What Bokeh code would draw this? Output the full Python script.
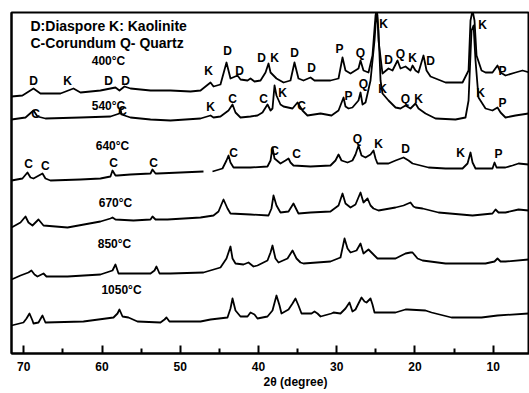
import numpy as np
from bokeh.plotting import figure
from bokeh.models import Range1d, FixedTicker, ColumnDataSource
from bokeh.core.properties import value
from bokeh.embed import file_html
from bokeh.resources import INLINE

# ---------------- data (2theta in degrees, stacked intensity in arbitrary units) ----------------
x_ticks = [70, 60, 50, 40, 30, 20, 10]
x_minor = [65, 55, 45, 35, 25, 15]
x_title = "2θ (degree)"

tt_400 = [71.57, 70.17, 68.76, 67.87, 65.31, 63.65, 62.75, 60.20, 58.28, 57.77, 57.13, 56.36, 53.80, 51.25,
          48.69, 47.41, 46.13, 45.75, 44.86, 44.09, 43.58, 42.68, 42.30, 41.40, 41.02, 40.51, 39.74, 39.10,
          38.72, 38.46, 37.70, 36.80, 35.91, 35.40, 34.89, 34.25, 33.35, 32.84, 30.80, 29.77, 29.26, 28.88,
          28.24, 27.22, 26.96, 26.58, 25.94, 25.43, 25.04, 24.91, 24.79, 24.66, 24.15, 23.38, 22.87, 22.23,
          21.85, 21.21, 20.57, 20.31, 19.93, 19.55, 18.91, 18.52, 18.01, 17.37, 16.09, 13.92, 13.15, 12.90,
          12.64, 12.39, 12.13, 11.49, 10.98, 10.09, 9.45, 9.06, 8.43, 7.15, 6.25, 5.36]
int_400 = [257, 258, 265, 260, 260, 265, 261, 263, 266, 263, 267, 265, 263, 263,
           262, 263, 271, 267, 269, 291, 275, 278, 274, 273, 275, 272, 273, 281,
           290, 281, 275, 271, 273, 291, 275, 273, 276, 273, 273, 275, 296, 283,
           280, 285, 293, 283, 281, 298, 338, 343, 338, 313, 280, 285, 283, 293,
           285, 287, 283, 288, 283, 281, 298, 283, 277, 275, 271, 271, 283, 333,
           343, 333, 298, 283, 281, 281, 288, 281, 278, 281, 283, 281]

tt_540 = [71.57, 69.78, 68.76, 68.25, 67.23, 62.75, 58.92, 57.77, 57.64, 57.51, 56.36, 53.80, 51.25, 47.41,
          46.13, 45.75, 44.86, 43.83, 43.32, 42.94, 42.30, 41.02, 40.13, 39.49, 38.85, 38.46, 38.21, 37.95,
          37.70, 37.19, 36.80, 35.65, 35.01, 34.38, 33.74, 32.07, 30.67, 29.77, 29.13, 28.88, 28.49, 27.99,
          27.22, 26.96, 26.70, 26.32, 25.68, 25.17, 24.91, 24.66, 24.40, 24.15, 23.38, 22.48, 21.85, 21.21,
          20.57, 19.93, 19.55, 18.65, 17.37, 14.82, 13.54, 13.15, 12.77, 12.51, 12.26, 11.88, 10.98, 10.09,
          9.45, 9.06, 8.43, 7.15, 5.49]
int_540 = [234, 236, 243, 237, 235, 236, 237, 240, 245, 239, 236, 234, 233, 235,
           238, 236, 237, 243, 249, 241, 236, 237, 238, 241, 249, 243, 245, 268,
           258, 249, 247, 245, 251, 243, 238, 240, 238, 243, 256, 247, 245, 246,
           253, 261, 249, 251, 273, 313, 343, 323, 273, 260, 253, 246, 245, 248,
           245, 250, 245, 240, 235, 234, 236, 253, 323, 328, 293, 256, 245, 243,
           246, 241, 236, 238, 240]

tt_640 = [71.57, 70.17, 69.53, 69.14, 68.76, 67.61, 67.23, 66.59, 62.75, 60.20, 58.92, 58.66, 58.28, 58.02,
          56.36, 53.80, 53.55, 53.16, 52.91, 49.97, 47.03, np.nan, 45.88, 44.60, 44.09, 43.83, 43.58, 43.19,
          41.02, 38.85, 38.46, 38.21, 37.95, 37.19, 36.55, 36.16, 35.91, 35.53, 33.35, 30.80, 30.16, 29.77,
          29.39, 28.62, 27.99, 27.60, 27.22, 26.83, 26.32, 25.68, 25.30, 25.04, 24.79, 23.38, 22.48, 21.46,
          20.82, 20.31, 18.27, 16.09, 13.92, 13.28, 12.90, 12.64, 12.26, 10.09, 9.83, 9.57, 8.43, 7.53,
          6.76, 5.49]
int_640 = [173, 175, 181, 176, 175, 180, 175, 173, 174, 175, 177, 183, 178, 178,
           179, 180, 184, 180, 180, 181, 182, np.nan, 182, 185, 193, 198, 191, 186,
           186, 187, 193, 206, 195, 190, 193, 195, 191, 188, 187, 188, 193, 199,
           193, 191, 193, 199, 208, 198, 196, 199, 203, 195, 190, 190, 193, 196,
           193, 190, 186, 185, 185, 190, 201, 191, 185, 185, 191, 186, 186, 188,
           190, 189]

tt_670 = [71.57, 70.42, 69.78, 69.40, 68.89, 68.12, 67.48, 64.41, 60.20, 58.92, 58.66, 58.28, 55.98, 53.80,
          53.55, 53.16, 51.63, 47.41, 45.75, 45.11, 44.47, 43.96, 43.58, 41.02, 38.72, 38.34, 38.08, 37.70,
          37.19, 36.16, 35.53, 34.89, 33.35, 30.80, 29.77, 29.26, 28.88, 28.24, 27.60, 26.96, 26.58, 26.06,
          25.68, 25.30, 24.66, 22.48, 21.46, 20.57, 20.19, 19.93, 19.03, 16.99, 12.64, 10.09, 9.70, 9.32,
          8.43, 6.76, 5.49]
int_670 = [126, 131, 137, 131, 128, 134, 128, 126, 132, 135, 136, 134, 133, 134,
           137, 134, 134, 136, 138, 142, 154, 145, 140, 139, 138, 145, 158, 148,
           141, 142, 150, 140, 141, 142, 148, 160, 150, 146, 149, 161, 151, 155,
           148, 145, 143, 146, 148, 151, 147, 146, 145, 141, 138, 140, 144, 141,
           141, 144, 143]

tt_850 = [71.57, 70.42, 69.40, 69.02, 68.63, 68.25, 67.48, 67.10, 66.59, 64.41, 60.20, 58.66, 58.28, 57.89,
          53.80, 53.29, 53.04, 52.65, 51.25, 47.03, 44.86, 44.09, 43.58, 43.32, 42.94, 41.92, 41.28, 40.64,
          40.13, 38.85, 38.46, 38.21, 37.83, 37.44, 36.29, 35.65, 35.14, 34.63, 34.25, 30.80, 29.52, 29.00,
          28.62, 28.24, 27.47, 26.96, 26.58, 25.94, 25.43, 24.79, 22.48, 21.21, 20.57, 20.31, 19.67, 19.03,
          16.09, 10.98, 9.83, 9.45, 9.06, 8.43, 5.49]
int_850 = [74, 78, 81, 83, 79, 77, 80, 77, 77, 77, 79, 83, 89, 80,
           80, 83, 87, 80, 80, 81, 86, 95, 107, 95, 90, 89, 91, 87,
           88, 93, 101, 108, 95, 91, 95, 103, 95, 91, 90, 92, 96, 115,
           105, 101, 103, 110, 100, 104, 100, 95, 95, 100, 101, 101, 95, 93,
           90, 90, 92, 95, 92, 92, 94]

tt_1050 = [71.57, 70.04, 69.65, 69.27, 68.89, 68.76, 68.12, 67.61, 67.23, 62.37, 58.53, 58.02, 57.77, 57.38,
           56.62, 55.47, 52.53, 52.01, 51.76, 51.38, 47.41, 46.13, 43.96, 43.58, 43.32, 42.94, 42.30, 41.40,
           41.02, 40.51, 40.13, 38.85, 38.21, 37.70, 37.31, 37.06, 36.16, 35.65, 35.27, 34.89, 34.50, 33.22,
           32.84, 32.46, 32.07, 30.67, 30.41, 29.52, 28.88, 28.37, 27.99, 27.60, 27.22, 26.83, 26.45, 26.19,
           25.68, 25.43, 25.17, 22.48, 21.21, 20.95, 18.65, 17.88, 15.33, 11.49, 9.45, 5.49]
int_1050 = [28, 31, 35, 40, 33, 30, 31, 38, 31, 32, 36, 40, 44, 37,
            36, 32, 31, 34, 36, 32, 32, 34, 36, 45, 55, 43, 37, 37,
            41, 39, 35, 37, 43, 58, 48, 40, 44, 50, 55, 48, 40, 40,
            42, 40, 37, 40, 41, 40, 45, 51, 42, 44, 50, 56, 52, 51,
            55, 49, 41, 41, 44, 44, 43, 41, 36, 36, 38, 40]

traces = [(tt_400, int_400), (tt_540, int_540), (tt_640, int_640),
          (tt_670, int_670), (tt_850, int_850), (tt_1050, int_1050)]

temp_labels = ["400°C", "540°C", "640°C", "670°C", "850°C", "1050°C"]
temp_tt = [59.17, 59.17, 58.66, 58.28, 58.41, 57.51]
temp_int = [293, 248, 208, 151, 110, 64]

peak_text = (["D", "K", "D", "D", "K", "D", "D", "D", "K", "D", "D", "P", "Q", "K", "D", "Q", "K", "D", "K", "P"]
             + ["C", "C", "K", "C", "C", "K", "C", "P", "Q", "K", "Q", "K", "K", "P"]
             + ["C", "C", "C", "C", "C", "C", "C", "Q", "K", "D", "K", "P"])
peak_tt = ([68.76, 64.41, 59.17, 57.00, 46.39, 43.96, 42.43, 39.62, 37.95, 35.40, 33.22, 29.64, 26.96, 24.02,
            23.38, 21.85, 20.31, 18.01, 11.37, 8.81]
           + [68.50, 57.38, 46.13, 43.32, 39.36, 36.93, 34.50, 28.49, 26.58, 24.15, 21.21, 19.55, 11.62, 8.81]
           + [69.40, 67.23, 58.53, 53.42, 43.19, 37.95, 35.14, 27.34, 24.66, 21.21, 14.18, 9.32])
peak_int = ([273, 273, 273, 273, 283, 303, 283, 296, 296, 301, 286, 305, 301, 330, 294, 300, 296, 293, 329, 283]
            + [240, 243, 247, 255, 255, 261, 248, 258, 270, 265, 255, 255, 261, 251]
            + [190, 188, 191, 191, 201, 203, 200, 215, 210, 205, 201, 200])

legend_lines = ["D:Diaspore  K: Kaolinite", "C-Corundum  Q- Quartz"]
legend_tt = [69.14, 69.14]
legend_int = [328, 311]

# ---------------- figure ----------------
FONT = "Liberation Sans"
x_lo, x_hi = 71.57, 5.36
y_lo, y_hi = 0, 341

p = figure(width=529, height=393, x_range=Range1d(x_lo, x_hi), y_range=Range1d(y_lo, y_hi),
           output_backend="svg", toolbar_location=None,
           min_border_left=11, min_border_right=0, min_border_top=12, min_border_bottom=40)
# frame box gives the top and left border lines
p.outline_line_color = "black"
p.outline_line_width = 2
p.outline_line_alpha = 1.0
p.xgrid.visible = False
p.ygrid.visible = False
p.background_fill_color = "white"
p.border_fill_color = "white"

# left frame line (y axis without ticks or labels)
yax = p.left[0]
yax.ticker = FixedTicker(ticks=[])
yax.axis_line_width = 2
yax.axis_line_color = "black"
yax.major_tick_in = 0
yax.major_tick_out = 0
yax.minor_tick_in = 0
yax.minor_tick_out = 0
yax.major_label_standoff = 0

for tt, ii in traces:
    src = ColumnDataSource(data=dict(x=np.array(tt, dtype=float), y=np.array(ii, dtype=float)))
    p.line("x", "y", source=src, line_color="black", line_width=1.8, line_join="round")

p.text(x=peak_tt, y=peak_int, text=peak_text, text_font=value(FONT), text_font_style="bold",
       text_font_size="12px", text_align="center", text_baseline="middle", text_color="black")
p.text(x=temp_tt, y=temp_int, text=temp_labels, text_font=value(FONT), text_font_style="bold",
       text_font_size="12px", text_align="center", text_baseline="middle", text_color="black")
p.text(x=legend_tt, y=legend_int, text=legend_lines, text_font=value(FONT), text_font_style="bold",
       text_font_size="14px", text_align="left", text_baseline="middle", text_color="black")

ax = p.below[0]
ax.ticker = FixedTicker(ticks=x_ticks, minor_ticks=x_minor)
ax.axis_line_width = 2
ax.axis_line_color = "black"
ax.major_tick_in = 8
ax.major_tick_out = 0
ax.major_tick_line_width = 2
ax.minor_tick_in = 5
ax.minor_tick_out = 0
ax.minor_tick_line_width = 2
ax.major_label_standoff = 8
ax.major_label_text_font = FONT
ax.major_label_text_font_style = "bold"
ax.major_label_text_font_size = "12px"
ax.major_label_text_color = "black"
# title sits right of the frame centre in the original: pad with no-break spaces
ax.axis_label = "\u00a0" * 15 + x_title
ax.axis_label_standoff = 1
ax.axis_label_text_font = FONT
ax.axis_label_text_font_style = "bold"
ax.axis_label_text_font_size = "12px"
ax.axis_label_text_color = "black"

open("out.html", "w").write(file_html(p, INLINE))
